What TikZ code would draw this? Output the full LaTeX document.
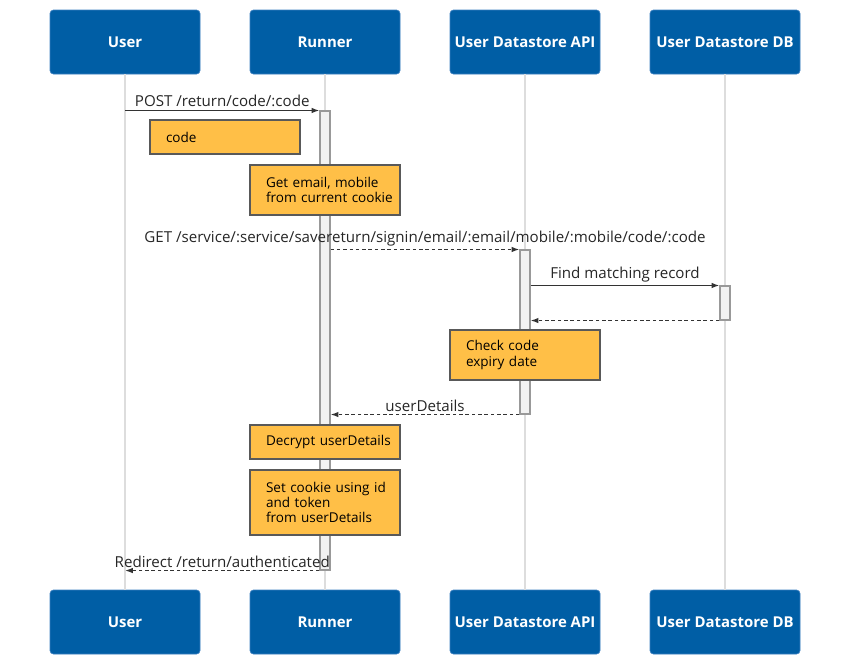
\documentclass[tikz,border=0pt]{standalone}
\usepackage{fontspec}
\setmainfont{Open Sans}
\usetikzlibrary{arrows.meta,positioning,calc}
\definecolor{govblue}{HTML}{005EA5}
\definecolor{govedge}{HTML}{3B7FC0}
\definecolor{noteyellow}{HTML}{FFBF47}
\definecolor{lifegrey}{HTML}{DDDDDD}
\definecolor{msgline}{HTML}{333333}

\begin{document}
\begin{tikzpicture}[
  actor/.style={rectangle, draw=govedge, fill=govblue, rounded corners=2pt, minimum width=3cm, minimum height=1.28cm,
    text=white, font=\fontsize{8.5}{10}\selectfont\bfseries, inner sep=0pt},
  lifeline/.style={lifegrey, line width=1.1pt},
  actbar/.style={rectangle, draw=gray!80, fill=gray!10, line width=0.6pt, minimum width=0.2cm, inner sep=0pt},
  notebox/.style={rectangle, draw=black!65, fill=noteyellow, line width=0.6pt, text width=2.8cm, inner xsep=0.1cm,
    minimum height=#1, font=\fontsize{7.7}{8.6}\selectfont,
    execute at begin node={\raggedright\leftskip=0.22cm}},
  msg/.style={-{Latex[length=4.5pt,width=3.2pt]}, msgline, line width=0.8pt},
  reply/.style={msg, dash pattern=on 2pt off 1.6pt},
  lbl/.style={midway, above, inner sep=1.5pt, font=\fontsize{8.6}{10}\selectfont, text=black!85}
]
  \useasboundingbox (0,0) rectangle (17,-13.12);

  % participants
  \node[actor] (userT) at (2.5,-0.84) {User};
  \node[actor] (runT) at (6.5,-0.84) {Runner};
  \node[actor] (apiT) at (10.5,-0.84) {User Datastore API};
  \node[actor] (dbT) at (14.5,-0.84) {User Datastore DB};
  \node[actor] (userB) at (2.5,-12.44) {User};
  \node[actor] (runB) at (6.5,-12.44) {Runner};
  \node[actor] (apiB) at (10.5,-12.44) {User Datastore API};
  \node[actor] (dbB) at (14.5,-12.44) {User Datastore DB};

  \draw[lifeline] (userT) -- (userB);
  \draw[lifeline] (runT) -- (runB);
  \draw[lifeline] (apiT) -- (apiB);
  \draw[lifeline] (dbT) -- (dbB);

  % activations
  \node[actbar, minimum height=9.18cm] (runAct) at (6.5,-6.81) {};
  \node[actbar, minimum height=3.28cm] (apiAct) at (10.5,-6.64) {};
  \node[actbar, minimum height=0.68cm] (dbAct) at (14.5,-6.06) {};

  % notes
  \node[notebox=0.68cm] (codeNote) at (4.5,-2.74) {code};
  \node[notebox=1.0cm] (cookieNote) at (6.5,-3.8) {Get email, mobile\\from current cookie};
  \node[notebox=1.0cm] (expiryNote) at (10.5,-7.1) {Check code\\expiry date};
  \node[notebox=0.68cm] (decryptNote) at (6.5,-8.84) {Decrypt userDetails};
  \node[notebox=1.3cm] (setNote) at (6.5,-10.05) {Set cookie using id\\and token\\from userDetails};

  % messages
  \draw[msg] (userT |- runAct.north) -- (runAct.north west)
    node[lbl] {POST /return/code/:code};
  \draw[reply] (runAct.east |- apiAct.north) -- (apiAct.north west)
    node[lbl] {GET /service/:service/savereturn/signin/email/:email/mobile/:mobile/code/:code};
  \draw[msg] (apiAct.east |- dbAct.north) -- (dbAct.north west)
    node[lbl] {Find matching record};
  \draw[reply] (dbAct.south west) -- (apiAct.east |- dbAct.south);
  \draw[reply] (apiAct.south west) -- (runAct.east |- apiAct.south)
    node[lbl] {userDetails};
  \draw[reply] (runAct.south west) -- (userT |- runAct.south)
    node[lbl] {Redirect /return/authenticated};
\end{tikzpicture}
\end{document}
